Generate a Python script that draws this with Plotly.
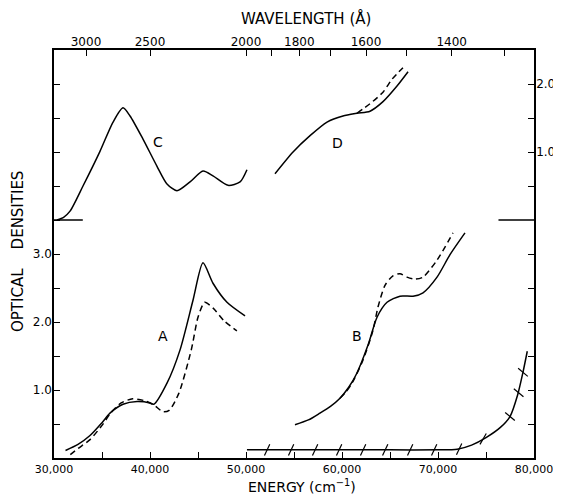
import plotly.graph_objects as go

# ---------------- data (energies in cm^-1, optical densities) ----------------
# Lower panel
A_solid_E = [31200, 32500, 33750, 35000, 35830, 37190, 38650, 40000, 40400, 41770, 43130, 44480, 45520, 46560, 48020, 49900]
A_solid_D = [0.11, 0.20, 0.33, 0.52, 0.66, 0.79, 0.83, 0.81, 0.79, 1.10, 1.59, 2.32, 2.87, 2.57, 2.29, 2.09]

A_dash_E = [31700, 32500, 33750, 35000, 35900, 37000, 38200, 39500, 40400, 41350, 42000, 43000, 44300, 45000, 45700, 46600, 47700, 49050]
A_dash_D = [0.05, 0.14, 0.27, 0.48, 0.66, 0.81, 0.87, 0.84, 0.78, 0.68, 0.70, 0.95, 1.59, 2.07, 2.29, 2.20, 2.02, 1.87]

B_solid_E = [55100, 56500, 57700, 58800, 59790, 60700, 61560, 62710, 63650, 64690, 66040, 67400, 68440, 69900, 71250, 72810]
B_solid_D = [0.49, 0.56, 0.66, 0.76, 0.88, 1.04, 1.25, 1.66, 2.07, 2.29, 2.38, 2.38, 2.43, 2.66, 2.99, 3.31]

B_dash_E = [59790, 60400, 61040, 62190, 63230, 63750, 64480, 65310, 66040, 66770, 67600, 68440, 69900, 71560]
B_dash_D = [0.88, 0.97, 1.10, 1.44, 1.88, 2.22, 2.54, 2.68, 2.71, 2.66, 2.63, 2.66, 2.91, 3.31]

F_E = [50100, 55000, 60000, 65000, 70000, 72000, 73500, 75000, 76500, 77500, 78300, 78850, 79300]
F_D = [0.12, 0.12, 0.12, 0.12, 0.12, 0.13, 0.19, 0.30, 0.45, 0.61, 0.93, 1.26, 1.57]

F_mark_E = [52200, 54700, 57200, 59700, 62200, 64500, 67100, 69600, 72200, 74700, 77500, 78400, 78850]
F_mark_D = [0.12, 0.12, 0.12, 0.12, 0.12, 0.12, 0.12, 0.12, 0.13, 0.28, 0.61, 0.96, 1.26]

# Upper panel (values on the upper scale)
C_E = [30310, 31000, 31670, 33020, 34790, 36150, 37190, 37920, 39270, 40730, 41770, 42810, 44170, 45520, 46560, 48130, 49380, 50100]
C_D = [0.00, 0.04, 0.13, 0.50, 1.01, 1.44, 1.65, 1.53, 1.19, 0.79, 0.53, 0.43, 0.56, 0.72, 0.65, 0.51, 0.56, 0.74]

D_solid_E = [53020, 54900, 56670, 58440, 60100, 61560, 62920, 64270, 65730, 66880]
D_solid_D = [0.68, 1.00, 1.24, 1.44, 1.53, 1.57, 1.60, 1.74, 1.97, 2.18]

D_dash_E = [61560, 62920, 64270, 65210, 66350]
D_dash_D = [1.57, 1.71, 1.88, 2.07, 2.24]

base_left_E = [30000, 33000]
base_right_E = [76300, 80000]
base_D = [0.0, 0.0]

UPPER_OFFSET = 3.5

# Axis tick data
energy_ticks = [30000, 35000, 40000, 45000, 50000, 55000, 60000, 65000, 70000, 75000, 80000]
energy_text = ["30,000", "", "40,000", "", "50,000", "", "60,000", "", "70,000", "", "80,000"]
wavelengths = [3000, 2500, 2000, 1900, 1800, 1700, 1600, 1500, 1400, 1300]
wavelength_text = ["3000", "2500", "2000", "", "1800", "", "1600", "", "1400", ""]
left_ticks = [0.5, 1.0, 1.5, 2.0, 2.5, 3.0, 3.5, 4.0, 4.5, 5.0, 5.5]
left_text = ["", "1.0", "", "2.0", "", "3.0", "", "", "", "", ""]
right_ticks = [0.5, 1.0, 1.5, 2.0, 2.5, 3.0, 4.0, 4.5, 5.0, 5.5]
right_text = ["", "", "", "", "", "", "", "1.0", "", "2.0"]

# ---------------- figure ----------------
FONT = "DejaVu Sans"
PAGE_OFF = 8                      # default body margin of the html page
W, H = 561 - PAGE_OFF, 497 - PAGE_OFF
ML, MR, MT, MB = 54 - PAGE_OFF, 27, 50 - PAGE_OFF, 39
PW, PH = W - ML - MR, H - MT - MB

def px_x(px):   # px = page pixel
    return (px - PAGE_OFF - ML) / PW

def px_y(py):
    return (H - MB - (py - PAGE_OFF)) / PH

solid = dict(color="black", width=1.5, shape="spline", smoothing=0.7)
dashed = dict(color="black", width=1.5, shape="spline", smoothing=0.7, dash="6px,4px")
straight = dict(color="black", width=1.5)

fig = go.Figure()
fig.add_trace(go.Scatter(x=A_solid_E, y=A_solid_D, mode="lines", line=solid))
fig.add_trace(go.Scatter(x=A_dash_E, y=A_dash_D, mode="lines", line=dashed))
fig.add_trace(go.Scatter(x=B_solid_E, y=B_solid_D, mode="lines", line=solid))
fig.add_trace(go.Scatter(x=B_dash_E, y=B_dash_D, mode="lines", line=dashed))
fig.add_trace(go.Scatter(x=F_E, y=F_D, mode="lines", line=solid))
fig.add_trace(go.Scatter(
    x=F_mark_E, y=F_mark_D, mode="markers",
    marker=dict(symbol="line-ns", size=9, color="black",
                line=dict(color="black", width=1.2),
                angle=[25] * 9 + [30, -50, -50, -50])))

fig.add_trace(go.Scatter(x=C_E, y=[v + UPPER_OFFSET for v in C_D], mode="lines", line=solid))
fig.add_trace(go.Scatter(x=D_solid_E, y=[v + UPPER_OFFSET for v in D_solid_D], mode="lines", line=solid))
fig.add_trace(go.Scatter(x=D_dash_E, y=[v + UPPER_OFFSET for v in D_dash_D], mode="lines", line=dashed))
fig.add_trace(go.Scatter(x=base_left_E, y=[v + UPPER_OFFSET for v in base_D], mode="lines", line=straight))
fig.add_trace(go.Scatter(x=base_right_E, y=[v + UPPER_OFFSET for v in base_D], mode="lines", line=straight))

# invisible trace to carry the top and right axes
fig.add_trace(go.Scatter(x=[30000, 80000], y=[0, 6], mode="markers",
                         marker=dict(opacity=0), xaxis="x2", yaxis="y2", hoverinfo="skip"))

def axis_style(size):
    return dict(showline=True, linecolor="black", linewidth=1.5, ticks="inside",
                tickcolor="black", tickwidth=1.2, ticklen=6, showgrid=False,
                zeroline=False, automargin=False,
                tickfont=dict(family=FONT, size=size, color="black"))

fig.update_layout(
    width=W, height=H, margin=dict(l=ML, r=MR, t=MT, b=MB),
    paper_bgcolor="white", plot_bgcolor="white", showlegend=False,
    xaxis=dict(range=[30000, 80000], tickvals=energy_ticks, ticktext=energy_text,
               ticklabelstandoff=0, **axis_style(11)),
    xaxis2=dict(range=[30000, 80000], overlaying="x", side="top", anchor="y",
                tickvals=[1e8 / w for w in wavelengths], ticktext=wavelength_text,
                ticklabelstandoff=-3, **axis_style(12)),
    yaxis=dict(range=[0, 6], tickvals=left_ticks, ticktext=left_text,
               ticklabelstandoff=-2, **axis_style(12)),
    yaxis2=dict(range=[0, 6], overlaying="y", side="right", anchor="x",
                tickvals=right_ticks, ticktext=right_text,
                ticklabelstandoff=-2, **axis_style(12)),
)

ann_font = dict(family=FONT, size=14, color="black")
for txt, ex, ey in [("A", 41350, 1.79), ("B", 61560, 1.79),
                    ("C", 40830, 4.65), ("D", 59580, 4.63)]:
    fig.add_annotation(x=ex, y=ey, xref="x", yref="y", text=txt, showarrow=False,
                       font=ann_font, xanchor="center", yanchor="middle")

fig.add_annotation(x=px_x(306), y=px_y(18), xref="paper", yref="paper",
                   text="WAVELENGTH (Å)", showarrow=False, xanchor="center", yanchor="middle",
                   font=dict(family=FONT, size=15, color="black"))
fig.add_annotation(x=px_x(302), y=px_y(486), xref="paper", yref="paper",
                   text="ENERGY (cm<sup>−1</sup>)", showarrow=False, xanchor="center", yanchor="middle",
                   font=dict(family=FONT, size=14, color="black"))
fig.add_annotation(x=px_x(18), y=px_y(252), xref="paper", yref="paper",
                   text="OPTICAL    DENSITIES", showarrow=False, textangle=-90,
                   xanchor="center", yanchor="middle",
                   font=dict(family=FONT, size=15, color="black"))

fig.write_html("out.html")
